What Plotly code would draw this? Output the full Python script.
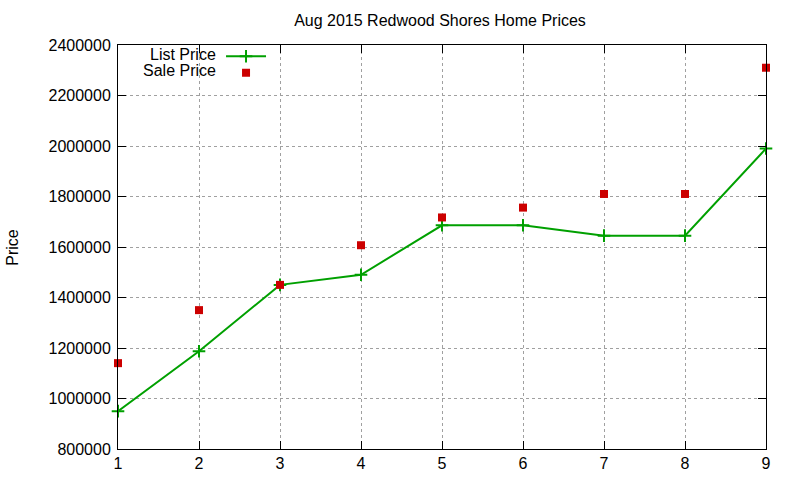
import plotly.graph_objects as go

### data
months = [1, 2, 3, 4, 5, 6, 7, 8, 9]
list_price = [950000, 1187000, 1450000, 1490000, 1686000, 1686000, 1645000, 1645000, 1990000]
sale_price = [1140000, 1350000, 1450000, 1607000, 1717000, 1756000, 1810000, 1810000, 2310000]
y_ticks = [800000, 1000000, 1200000, 1400000, 1600000, 1800000, 2000000, 2200000, 2400000]

font_name = "Liberation Sans, Arial, sans-serif"
green = "#00a000"
red = "#cc0000"

### traces
list_trace = go.Scatter(x=months, y=list_price, mode="lines+markers", name=" ",
                        line=dict(color=green, width=2), cliponaxis=False,
                        marker=dict(symbol="cross-thin", size=9,
                                    line=dict(color=green, width=2)),
                        hovertext="List Price", hoverinfo="x+y+text", legend="legend")
sale_trace = go.Scatter(x=months, y=sale_price, mode="markers", name=" ",
                        cliponaxis=False,
                        marker=dict(symbol="square", size=8, color=red),
                        hovertext="Sale Price", hoverinfo="x+y+text", legend="legend2")

### axes
axis_common = dict(showline=True, linecolor="black", linewidth=1, mirror="ticks",
                   ticks="inside", ticklen=8, tickcolor="black", automargin=False,
                   showgrid=True, gridcolor="#a0a0a0", griddash="dot", gridwidth=1,
                   zeroline=False, tickfont=dict(family=font_name, size=16, color="black"))

xaxis = dict(axis_common, range=[1, 9], tickvals=months)
yaxis = dict(axis_common, range=[800000, 2400000], tickvals=y_ticks,
             ticktext=[str(v) for v in y_ticks], ticklabelstandoff=3)

text_font = dict(family=font_name, size=16, color="black")
legend_common = dict(x=0.159, xanchor="left", yanchor="top", bgcolor="rgba(0,0,0,0)",
                     font=dict(family=font_name, size=8, color="black"), itemwidth=40)

layout = go.Layout(
    width=800, height=480,
    paper_bgcolor="white", plot_bgcolor="white",
    margin=dict(l=118, r=34, t=45, b=31),
    title=dict(text="Aug 2015 Redwood Shores Home Prices", x=0.55, xanchor="center",
               y=0.958, yanchor="middle",
               font=dict(family=font_name, size=16, color="black")),
    xaxis=xaxis, yaxis=yaxis,
    showlegend=True,
    legend=dict(legend_common, y=1.008),
    legend2=dict(legend_common, y=0.967),
    annotations=[
        dict(text="List Price", x=0.155, y=1.0, xref="paper", yref="paper",
             xanchor="right", yanchor="top", showarrow=False, yshift=1,
             font=text_font),
        dict(text="Sale Price", x=0.155, y=1.0, xref="paper", yref="paper",
             xanchor="right", yanchor="top", showarrow=False, yshift=-15,
             font=text_font),
        dict(text="Price", x=-0.164, y=0.5, xref="paper", yref="paper",
             xanchor="center", yanchor="middle", showarrow=False, textangle=-90,
             font=text_font),
    ],
)

fig = go.Figure(data=[list_trace, sale_trace], layout=layout)
fig.write_html("out.html", config={"displayModeBar": False},
               post_script="document.body.style.margin = '0';")
